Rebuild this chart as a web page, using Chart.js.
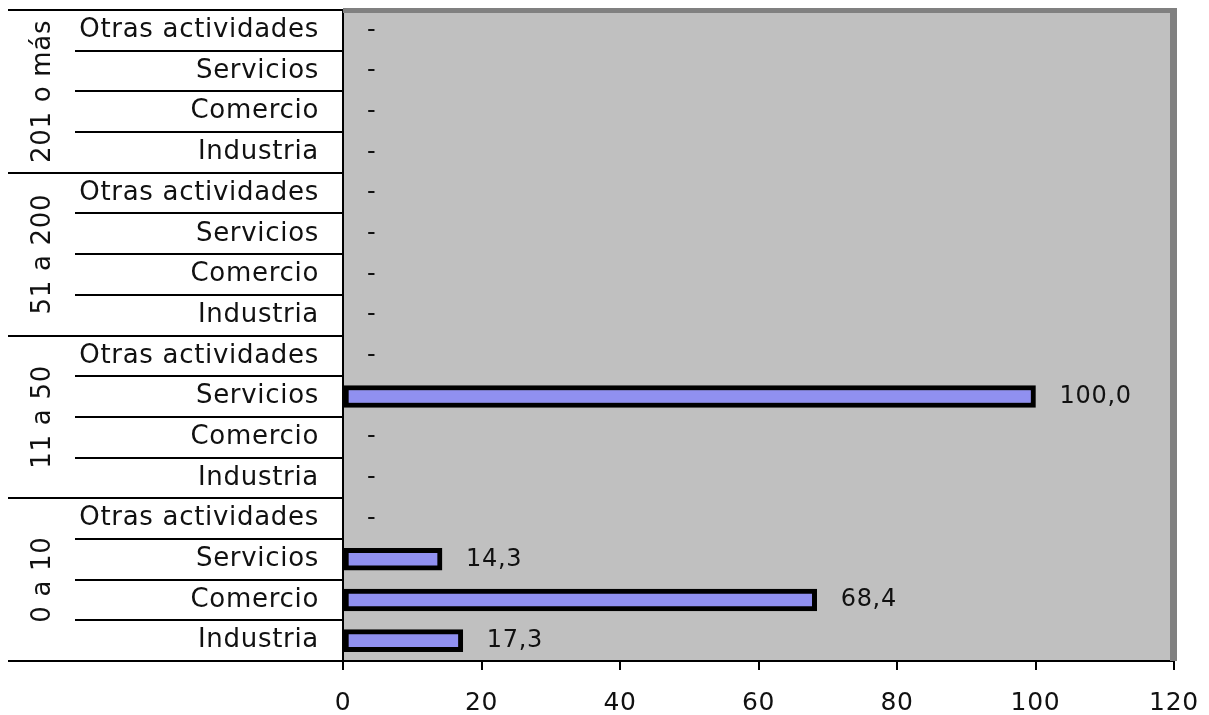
<!DOCTYPE html>
<html>
<head>
<meta charset="utf-8">
<script src="https://cdn.jsdelivr.net/npm/chart.js@4"></script>
<style>
  body { margin: 0; background: #fff; }
  #wrap { width: 1209px; height: 715px; }
</style>
</head>
<body>
<div id="wrap"><canvas id="myChart" width="1209" height="715"></canvas></div>
<script>
// groups top to bottom, sectors top to bottom inside each group
const groups = ["201 o más", "51 a 200", "11 a 50", "0 a 10"];
const sectors = ["Otras actividades", "Servicios", "Comercio", "Industria"];
// null = no data, shown as "-"
const values201 = [null, null, null, null];
const values51 = [null, null, null, null];
const values11 = [null, 100.0, null, null];
const values0 = [null, 14.3, 68.4, 17.3];
const xTicks = [0, 20, 40, 60, 80, 100, 120];

const labels = [];
const values = [];
[values201, values51, values11, values0].forEach((vals) => {
  sectors.forEach((s, i) => {
    labels.push(s);
    values.push(vals[i]);
  });
});

const LABEL_FONT = '26px "DejaVu Sans"';

const frame = {
  id: "frame",
  beforeDraw(chart) {
    const { ctx, chartArea: a } = chart;
    // text in the original is a bit wider than DejaVu
    ctx.letterSpacing = "0.7px";
    ctx.save();
    ctx.fillStyle = "#c0c0c0";
    ctx.fillRect(a.left, a.top, a.right - a.left, a.bottom - a.top);
    ctx.restore();
  },
  afterDraw(chart) {
    const { ctx, chartArea: a } = chart;
    const y = chart.scales.y;
    const left = 8;
    const sepLeft = 75;
    ctx.save();
    // 3d-ish frame on top and right
    ctx.fillStyle = "#808080";
    ctx.fillRect(a.left, a.top - 2, a.right - a.left + 3, 5);
    ctx.fillRect(a.right - 4, a.top - 2, 7, a.bottom - a.top + 2);
    // separators in label area
    ctx.strokeStyle = "#000";
    ctx.lineWidth = 2;
    const n = labels.length;
    for (let i = 0; i <= n; i++) {
      let py;
      if (i === 0) py = a.top;
      else if (i === n) py = a.bottom;
      else py = (y.getPixelForValue(i - 1) + y.getPixelForValue(i)) / 2;
      const x0 = i % sectors.length === 0 ? left : sepLeft;
      ctx.beginPath();
      ctx.moveTo(x0, Math.round(py));
      ctx.lineTo(a.left, Math.round(py));
      ctx.stroke();
    }
    // group labels rotated
    ctx.fillStyle = "#111";
    ctx.font = LABEL_FONT;
    ctx.textAlign = "center";
    ctx.textBaseline = "middle";
    groups.forEach((g, gi) => {
      const first = gi * sectors.length;
      const last = first + sectors.length - 1;
      const cy = (y.getPixelForValue(first) + y.getPixelForValue(last)) / 2;
      ctx.save();
      ctx.translate(43, cy);
      ctx.rotate(-Math.PI / 2);
      ctx.fillText(g, 0, 0);
      ctx.restore();
    });
    // value labels
    const x = chart.scales.x;
    ctx.font = '24px "DejaVu Sans"';
    ctx.fillStyle = "#111";
    ctx.textAlign = "left";
    values.forEach((v, i) => {
      const py = y.getPixelForValue(i);
      const px = x.getPixelForValue(v == null ? 0 : v) + 24;
      const txt = v == null ? "-" : v.toFixed(1).replace(".", ",");
      ctx.fillText(txt, px, py);
    });
    ctx.restore();
  },
};

const data = {
  labels: labels,
  datasets: [
    {
      data: values,
      backgroundColor: "#9090f0",
      borderColor: "#000",
      borderWidth: 5,
      borderSkipped: false,
      barThickness: 22,
    },
  ],
};

const config = {
  type: "bar",
  data: data,
  options: {
    indexAxis: "y",
    responsive: false,
    animation: false,
    layout: { padding: { left: 8, top: 10, right: 35, bottom: 0 } },
    plugins: {
      legend: { display: false },
      tooltip: { enabled: false },
    },
    scales: {
      x: {
        min: 0,
        max: 120,
        afterBuildTicks(scale) {
          scale.ticks = xTicks.map((v) => ({ value: v }));
        },
        afterFit(scale) {
          scale.height = 54;
          scale.paddingLeft = 0;
          scale.paddingRight = 0;
        },
        grid: { drawOnChartArea: false, drawTicks: true, tickLength: 9, color: "#000", lineWidth: 2 },
        border: { display: true, color: "#000", width: 2 },
        ticks: {
          color: "#111",
          font: { family: "DejaVu Sans", size: 25 },
          padding: 18,
          maxRotation: 0,
        },
      },
      y: {
        afterFit(scale) {
          scale.width = 335;
          scale.paddingTop = 0;
          scale.paddingBottom = 0;
        },
        grid: { display: false, drawTicks: false },
        border: { display: true, color: "#000", width: 2 },
        ticks: {
          color: "#111",
          font: { family: "DejaVu Sans", size: 26 },
          padding: 24,
          autoSkip: false,
        },
      },
    },
  },
  plugins: [frame],
};

const ctx = document.getElementById("myChart").getContext("2d");
new Chart(ctx, config);
</script>
</body>
</html>
